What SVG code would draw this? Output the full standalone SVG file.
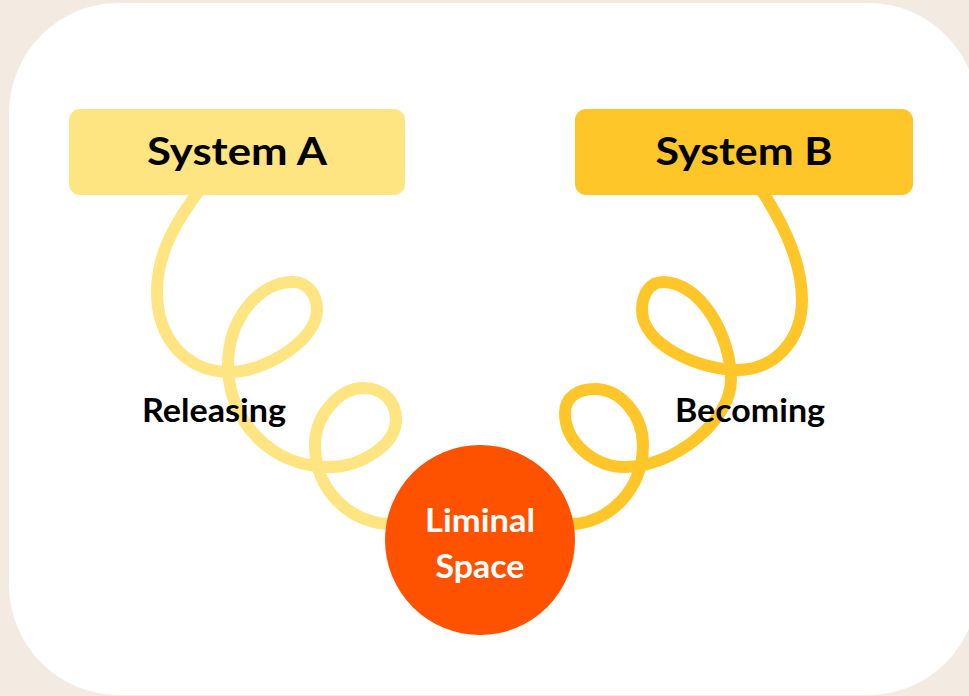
<svg xmlns="http://www.w3.org/2000/svg" width="969" height="696" viewBox="0 0 969 696">
  <style>
    .label { font-family: Lato, "Liberation Sans", sans-serif; font-weight: 700; text-anchor: middle; }
    .title { font-size: 39px; fill: #000000; }
    .side { font-size: 32px; fill: #000000; }
    .core { font-size: 32px; fill: #FFFFFF; }
    .coil { fill: none; stroke-width: 12; stroke-linecap: round; stroke-linejoin: round; }
    .coil-a { stroke: #FFE482; }
    .coil-b { stroke: #FFC62A; }
  </style>

  <!-- page backdrop and card -->
  <rect x="0" y="0" width="969" height="696" fill="#F3EBE2"/>
  <rect x="9" y="3" width="969" height="692" rx="110" ry="110" fill="#FFFFFF"/>

  <!-- spiralling links into the centre -->
  <g id="connectors">
    <path id="link-a" class="coil coil-a" d="M201,188 C177,220 157,252 157,292 C157,337 185,372 230,372 C265,372 317,340 317,310 C317,294 307,282 293,282 C258,282 228,320 228,365 C228,420 270,467 330,467 C360,467 396,445 396,420 C396,400 382,388 363,388 C340,388 315,415 315,445 C315,490 350,524 393,524"/>
    <path id="link-b" class="coil coil-b" d="M760,188 C782,221 802,260 802,300 C802,340 775,370 737,370 C700,370 642,345 642,310 C642,294 650,282 663,282 C700,282 731,335 731,380 C731,420 675,467 625,467 C595,467 565,443 565,413 C565,397 578,389 595,389 C620,389 643,415 643,445 C643,490 608,524 570,524"/>
  </g>

  <g id="system-a">
    <rect x="69" y="109" width="336" height="86" rx="11" ry="11" fill="#FFE482"/>
    <text class="label title" x="237" y="165" textLength="180" lengthAdjust="spacingAndGlyphs">System A</text>
  </g>

  <g id="system-b">
    <rect x="575" y="109" width="338" height="86" rx="11" ry="11" fill="#FFC62A"/>
    <text class="label title" x="744" y="165" textLength="177" lengthAdjust="spacingAndGlyphs">System B</text>
  </g>

  <g id="releasing">
    <text class="label side" x="214" y="422" textLength="144" lengthAdjust="spacingAndGlyphs">Releasing</text>
  </g>

  <g id="becoming">
    <text class="label side" x="750" y="422" textLength="150" lengthAdjust="spacingAndGlyphs">Becoming</text>
  </g>

  <g id="liminal-space">
    <circle cx="480" cy="540" r="95" fill="#FF5200"/>
    <text class="label core" x="480" y="532" textLength="110" lengthAdjust="spacingAndGlyphs">Liminal</text>
    <text class="label core" x="480" y="578" textLength="89" lengthAdjust="spacingAndGlyphs">Space</text>
  </g>
</svg>
